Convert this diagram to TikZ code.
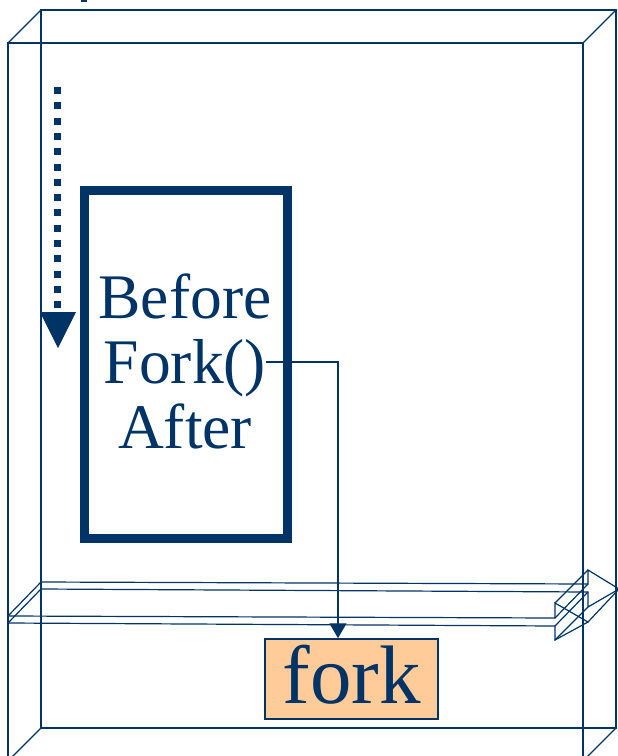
\documentclass[tikz,border=0pt]{standalone}
\usepackage{fontspec}
\setmainfont{Liberation Serif}
\usetikzlibrary{arrows.meta}
\definecolor{navy}{HTML}{003366}
\definecolor{peach}{HTML}{FFCC99}
\tikzset{
  wire/.style={draw=navy, line width=1.2pt, line join=miter},
  procbox/.style={draw=navy, line width=9pt, minimum width=203pt, minimum height=348pt, inner sep=0pt},
  bigtext/.style={text=navy, font=\fontsize{63.5}{65}\selectfont, inner sep=0pt, anchor=base},
  forkbox/.style={draw=navy, line width=1.5pt, fill=peach, minimum width=173pt, minimum height=80pt,
     inner sep=0pt, text=navy, font=\fontsize{83}{83}\selectfont, text height=55pt, text depth=7pt},
  callarrow/.style={draw=navy, line width=1.3pt, -{Triangle[length=15pt,width=17pt]}},
}
\begin{document}
\begin{tikzpicture}[x=1pt,y=-1pt]
\useasboundingbox (0,0) rectangle (618,756);
\clip (0,0) rectangle (618,756);
% cuboid: back face
\draw[wire] (41,10) rectangle (616,728);
% front face
\draw[wire] (8,761) -- (8,43) -- (583,43) -- (583,761);
% depth edges
\draw[wire] (8,43) -- (41,10);
\draw[wire] (583,43) -- (616,10);
\draw[wire] (41,728) -- (8,761);
\draw[wire] (616,728) -- (583,761);
% slab arrow
\coordinate (fa) at (8,616);   \coordinate (fb) at (555,618); \coordinate (fc) at (555,603);
\coordinate (fd) at (588,622); \coordinate (fe) at (555,640); \coordinate (ff) at (555,626);
\coordinate (fg) at (8,623);
\coordinate (ba) at (41,582);  \coordinate (bb) at (588,584); \coordinate (bc) at (588,570);
\coordinate (bd) at (619,589); \coordinate (be) at (588,607); \coordinate (bf) at (588,592);
\coordinate (bg) at (41,589);
\draw[wire] (fa) -- (fb) -- (fc) -- (fd) -- (fe) -- (ff) -- (fg) -- cycle;
\draw[wire] (ba) -- (bb) -- (bc) -- (bd) -- (be) -- (bf) -- (bg) -- cycle;
\foreach \p in {a,b,c,d,e,f,g} \draw[wire] (f\p) -- (b\p);
% small fragment at top
\fill[navy] (81,0) rectangle (87,2);
% dotted time arrow
\draw[navy, line width=7pt, dash pattern=on 7pt off 8.3pt] (57.5,87) -- (57.5,310);
\fill[navy] (40,312) -- (76,312) -- (58,348) -- cycle;
% process box
\node[procbox] (proc) at (186,364.5) {};
\node[bigtext] (before) at (185,318) {Before};
\node[bigtext] (fcall) at (185,383) {Fork()};
\node[bigtext] (after) at (185,448) {After};
% fork box
\node[forkbox] (fork) at (351.5,679) {fork};
% call arrow
\coordinate (turn) at (338,362);
\draw[callarrow] (fcall.east |- turn) -- (turn) -- (turn |- fork.north);
\end{tikzpicture}
\end{document}
